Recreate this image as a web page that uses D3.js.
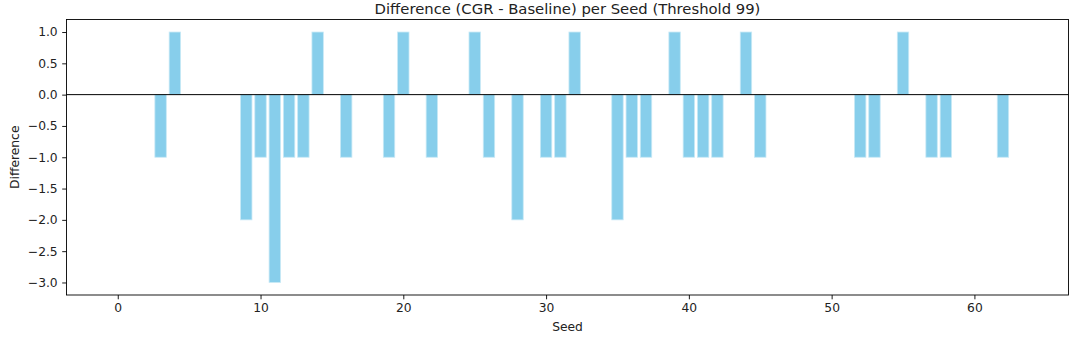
<!DOCTYPE html>
<html>
<head>
<meta charset="utf-8">
<script src="https://cdn.jsdelivr.net/npm/d3@7"></script>
<style>
  body { margin: 0; background: #fff; }
  svg { display: block; font-family: "DejaVu Sans", sans-serif; }
</style>
</head>
<body>
<div id="chart"></div>
<script>
// seeds 0..63, only non-zero differences listed
var seeds = d3.range(0, 64);
var nonzero_seeds = [3, 4, 9, 10, 11, 12, 13, 14, 16, 19, 20, 22, 25, 26, 28, 30, 31, 32,
  35, 36, 37, 39, 40, 41, 42, 44, 45, 52, 53, 55, 57, 58, 62];
var nonzero_diffs = [-1, 1, -2, -1, -3, -1, -1, 1, -1, -1, 1, -1, 1, -1, -2, -1, -1, 1,
  -2, -1, -1, 1, -1, -1, -1, 1, -1, -1, -1, 1, -1, -1, -1];
var y_ticks = [1.0, 0.5, 0.0, -0.5, -1.0, -1.5, -2.0, -2.5, -3.0];
var x_ticks = [0, 10, 20, 30, 40, 50, 60];

var diffs = seeds.map(function(s){
  var i = nonzero_seeds.indexOf(s);
  return i < 0 ? 0 : nonzero_diffs[i];
});

var width = 1076, height = 343;
var margin = {left: 66.5, right: 1076 - 1068.5, top: 19.5, bottom: 343 - 295};
var plot_w = width - margin.left - margin.right;
var plot_h = height - margin.top - margin.bottom;
const tick_font = '12.3px';

var svg = d3.select('#chart').append('svg')
  .attr('width', width)
  .attr('height', height);

var g = svg.append('g')
  .attr('transform', 'translate(' + margin.left + ',' + margin.top + ')');

// matplotlib style 5% margins
var bar_w = 0.8;
var x_lo = -bar_w / 2, x_hi = 63 + bar_w / 2;
var x_pad = (x_hi - x_lo) * 0.05;
var x = d3.scaleLinear().domain([x_lo - x_pad, x_hi + x_pad]).range([0, plot_w]);
var y = d3.scaleLinear().domain([-3.2, 1.2]).range([plot_h, 0]);

var fmt = function(d){ return d3.format('.1f')(d).replace('-', '\u2212'); };

// bars
g.selectAll('rect.bar')
  .data(seeds.map(function(s, i){ return {seed: s, diff: diffs[i]}; }).filter(function(d){ return d.diff !== 0; }))
  .enter().append('rect')
  .attr('class', 'bar')
  .attr('x', function(d){ return x(d.seed - bar_w / 2); })
  .attr('width', function(d){ return x(d.seed + bar_w / 2) - x(d.seed - bar_w / 2); })
  .attr('y', function(d){ return y(Math.max(0, d.diff)); })
  .attr('height', function(d){ return Math.abs(y(d.diff) - y(0)); })
  .style('fill', '#87ceeb')
  .style('stroke', '#c8e9f6')
  .style('stroke-width', 0.8);

// zero line
g.append('line')
  .attr('x1', 0).attr('x2', plot_w)
  .attr('y1', y(0)).attr('y2', y(0))
  .style('stroke', '#000')
  .style('stroke-width', 1);

// axes
var x_axis = g.append('g')
  .attr('transform', 'translate(0,' + plot_h + ')')
  .call(d3.axisBottom(x).tickValues(x_ticks).tickSize(4.3).tickPadding(4).tickFormat(d3.format('d')));

var y_axis = g.append('g')
  .call(d3.axisLeft(y).tickValues(y_ticks).tickSize(4.3).tickPadding(4.5).tickFormat(fmt));

[x_axis, y_axis].forEach(function(ax){
  ax.select('.domain').remove();
  ax.selectAll('.tick line').style('stroke', '#000').style('stroke-width', 0.9);
  ax.selectAll('.tick text')
    .style('font-family', '"DejaVu Sans", sans-serif')
    .style('font-size', tick_font)
    .style('fill', '#222');
});

// frame
g.append('rect')
  .attr('width', plot_w).attr('height', plot_h)
  .style('fill', 'none')
  .style('stroke', '#000')
  .style('stroke-width', 0.9);

// labels
svg.append('text')
  .attr('x', margin.left + plot_w / 2)
  .attr('y', 14)
  .attr('text-anchor', 'middle')
  .style('font-size', '14.8px')
  .style('fill', '#222')
  .text('Difference (CGR - Baseline) per Seed (Threshold 99)');

svg.append('text')
  .attr('x', margin.left + plot_w / 2)
  .attr('y', 331)
  .attr('text-anchor', 'middle')
  .style('font-size', tick_font)
  .style('fill', '#222')
  .text('Seed');

svg.append('text')
  .attr('transform', 'translate(18.5,' + (margin.top + plot_h / 2) + ') rotate(-90)')
  .attr('text-anchor', 'middle')
  .style('font-size', tick_font)
  .style('fill', '#222')
  .text('Difference');
</script>
</body>
</html>
